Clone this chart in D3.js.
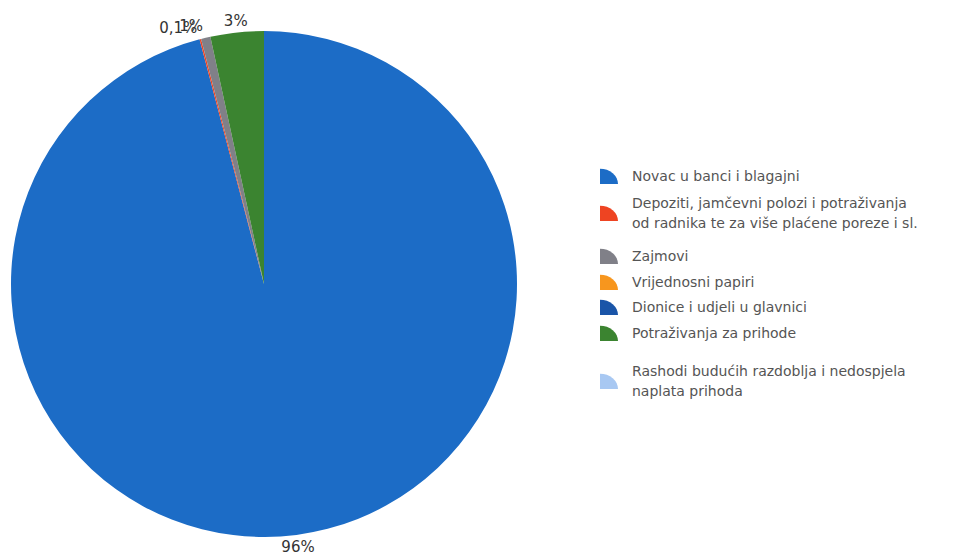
<!DOCTYPE html>
<html><head><meta charset="utf-8">
<script src="https://cdn.jsdelivr.net/npm/d3@7"></script>
<style>body{margin:0;background:#fff}svg{display:block}</style>
</head><body>
<svg id="c" width="979" height="555"></svg>
<script>
const categories = [
  "Novac u banci i blagajni",
  "Depoziti, jamčevni polozi i potraživanja|od radnika te za više plaćene poreze i sl.",
  "Zajmovi",
  "Vrijednosni papiri",
  "Dionice i udjeli u glavnici",
  "Potraživanja za prihode",
  "Rashodi budućih razdoblja i nedospjela|naplata prihoda"
];
const values = [95.9, 0.1, 0.6, 0, 0, 3.4, 0];
const valueLabels = ["96%", "0,1%", "1%", "", "", "3%", ""];
const colors = ["#1c6cc6", "#ee4422", "#808088", "#f7961e", "#1a55a8", "#3b8430", "#a8c8f2"];

const svg = d3.select("#c");
const cx = 264, cy = 284, r = 253;
const pie = d3.pie().sort(null).value(d => d)(values);
const arc = d3.arc().innerRadius(0).outerRadius(r);
const g = svg.append("g").attr("transform", `translate(${cx},${cy})`);
g.selectAll("path").data(pie).join("path")
  .attr("d", arc).attr("fill", (d, i) => colors[i]);

const lblR = r + 12;
g.selectAll("text.v").data(pie).join("text").attr("class", "v")
  .filter((d, i) => valueLabels[i] !== "")
  .each(function(d) {
    const i = d.index;
    const a = (d.startAngle + d.endAngle) / 2;
    const x = Math.sin(a) * lblR, y = -Math.cos(a) * lblR;
    const anchor = Math.abs(Math.sin(a)) < 0.15 ? "middle" : (Math.sin(a) < 0 ? "end" : "start");
    d3.select(this).attr("x", x).attr("y", y).attr("dy", "0.35em")
      .attr("text-anchor", anchor)
      .attr("font-family", "DejaVu Sans, Verdana, sans-serif").attr("font-size", 15)
      .attr("fill", "#333").text(valueLabels[i]);
  });

// legend
const legendY = [176, 213, 256, 282, 307, 333, 381];
const leg = svg.append("g");
const mk = d3.arc().innerRadius(0).outerRadius(18).startAngle(0).endAngle(Math.PI / 2);
categories.forEach((c, i) => {
  const lines = c.split("|");
  const y0 = legendY[i];
  leg.append("path").attr("d", mk)
    .attr("transform", `translate(600,${y0 + 8}) scale(1,0.85)`)
    .attr("fill", colors[i]);
  const t = leg.append("text").attr("x", 632)
    .attr("font-family", "DejaVu Sans, Verdana, sans-serif").attr("font-size", 14)
    .attr("fill", "#555");
  lines.forEach((l, j) => {
    t.append("tspan").attr("x", 632)
      .attr("y", y0 + (j - (lines.length - 1) / 2) * 19.5)
      .attr("dy", "0.35em").text(l);
  });
});
</script>
</body></html>
